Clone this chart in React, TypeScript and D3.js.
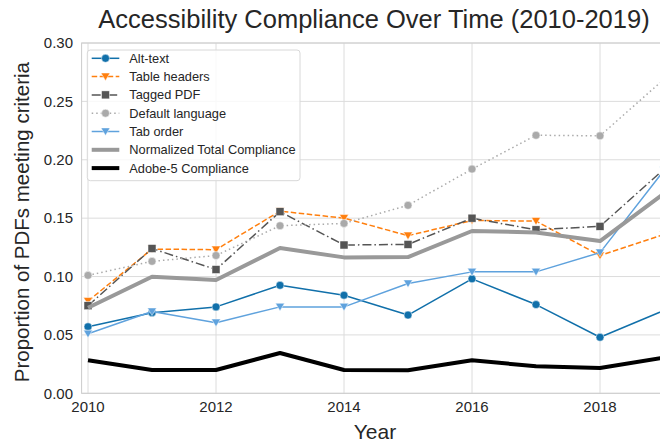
import React from "react";
import * as d3 from "d3";

const years = [2010, 2011, 2012, 2013, 2014, 2015, 2016, 2017, 2018, 2019];
const altText = [0.057, 0.069, 0.074, 0.0925, 0.084, 0.067, 0.098, 0.076, 0.048, 0.071];
const tableHeaders = [0.079, 0.1235, 0.123, 0.156, 0.150, 0.135, 0.148, 0.1475, 0.118, 0.136];
const taggedPdf = [0.075, 0.124, 0.106, 0.1555, 0.127, 0.1275, 0.150, 0.140, 0.143, 0.192];
const defaultLanguage = [0.101, 0.113, 0.118, 0.1435, 0.1455, 0.161, 0.192, 0.221, 0.2205, 0.269];
const tabOrder = [0.051, 0.070, 0.0605, 0.074, 0.074, 0.094, 0.104, 0.104, 0.1205, 0.191];
const normalizedTotal = [0.0733, 0.0998, 0.097, 0.1244, 0.1164, 0.1167, 0.139, 0.1378, 0.1304, 0.171];
const adobe5 = [0.0283, 0.020, 0.020, 0.0345, 0.020, 0.0197, 0.0283, 0.0231, 0.0217, 0.0305];
const yTicks = [0, 0.05, 0.1, 0.15, 0.2, 0.25, 0.3];
const xTicks = [2010, 2012, 2014, 2016, 2018];

type Series = {
  name: string;
  values: number[];
  color: string;
  width: number;
  dash?: string;
  marker?: "circle" | "square" | "tri";
};

const series: Series[] = [
  { name: "Alt-text", values: altText, color: "#1170aa", width: 1.5, marker: "circle" },
  { name: "Table headers", values: tableHeaders, color: "#ff7f0e", width: 1.5, dash: "5.5,2.5", marker: "tri" },
  { name: "Tagged PDF", values: taggedPdf, color: "#555555", width: 1.5, dash: "9,3,1.5,3", marker: "square" },
  { name: "Default language", values: defaultLanguage, color: "#aaaaaa", width: 1.5, dash: "1.5,3", marker: "circle" },
  { name: "Tab order", values: tabOrder, color: "#5fa2dd", width: 1.5, marker: "tri" },
  { name: "Normalized Total Compliance", values: normalizedTotal, color: "#999999", width: 4 },
  { name: "Adobe-5 Compliance", values: adobe5, color: "#000000", width: 4 },
];

const W = 660;
const H = 446;
const left = 81.6;
const right = 670.4;
const top = 43;
const bottom = 393.3;
const font = "'Liberation Sans', Arial, sans-serif";
const textColor = "#262626";

function Marker({ kind, x, y, color }: { kind?: string; x: number; y: number; color: string }) {
  if (!kind) return null;
  if (kind === "circle") return <circle cx={x} cy={y} r={4} fill={color} stroke="#fff" strokeWidth={0.5} />;
  if (kind === "square") return <rect x={x - 4} y={y - 4} width={8} height={8} fill={color} stroke="#fff" strokeWidth={0.5} />;
  const s = 4.5;
  return (
    <path
      d={`M${x - s},${y - s * 0.8}L${x + s},${y - s * 0.8}L${x},${y + s * 0.9}Z`}
      fill={color}
      stroke="#fff"
      strokeWidth={0.5}
    />
  );
}

export default function App() {
  const x = d3.scaleLinear().domain([2009.9, 2019.1]).range([left, right]);
  const y = d3.scaleLinear().domain([0, 0.3]).range([bottom, top]);
  const line = d3
    .line<number>()
    .x((_, i) => x(years[i]))
    .y((d) => y(d));

  const legX = 87.3;
  const legY = 50;
  const rowH = 18.3;

  return (
    <svg width={W} height={H} style={{ position: "absolute", left: 0, top: 0, background: "#fff" }} fontFamily={font}>
      <rect x={0} y={0} width={W} height={H} fill="#fff" />
      <defs>
        <clipPath id="plot">
          <rect x={left} y={top - 5} width={right - left} height={bottom - top + 10} />
        </clipPath>
      </defs>
      {/* grid */}
      {yTicks.map((t) => (
        <line key={"gy" + t} x1={left} x2={right} y1={y(t)} y2={y(t)} stroke="#dcdcdc" strokeWidth={1} />
      ))}
      {xTicks.map((t) => (
        <line key={"gx" + t} x1={x(t)} x2={x(t)} y1={top} y2={bottom} stroke="#dcdcdc" strokeWidth={1} />
      ))}
      {/* spines */}
      <rect x={left} y={top} width={right - left} height={bottom - top} fill="none" stroke="#cccccc" strokeWidth={1} />
      {/* series */}
      <g clipPath="url(#plot)">
        {series.map((s) => (
          <g key={s.name}>
            <path d={line(s.values) || ""} fill="none" stroke={s.color} strokeWidth={s.width} strokeDasharray={s.dash} strokeLinejoin="round" />
            {s.values.map((v, i) => (
              <Marker key={i} kind={s.marker} x={x(years[i])} y={y(v)} color={s.color} />
            ))}
          </g>
        ))}
      </g>
      {/* y ticks */}
      {yTicks.map((t) => (
        <text key={"ty" + t} x={73} y={y(t)} dy="0.35em" textAnchor="end" fontSize={15} fill={textColor}>
          {t.toFixed(2)}
        </text>
      ))}
      {xTicks.map((t) => (
        <text key={"tx" + t} x={x(t)} y={412} textAnchor="middle" fontSize={15} fill={textColor}>
          {t}
        </text>
      ))}
      {/* axis labels */}
      <text x={375} y={439} textAnchor="middle" fontSize={21} fill={textColor}>
        Year
      </text>
      <text transform={`translate(29,${(top + bottom) / 2 + 4}) rotate(-90)`} textAnchor="middle" fontSize={20.5} fill={textColor}>
        Proportion of PDFs meeting criteria
      </text>
      <text x={374} y={28} textAnchor="middle" fontSize={25.5} fill={textColor}>
        Accessibility Compliance Over Time (2010-2019)
      </text>
      {/* legend */}
      <rect x={legX} y={legY} width={212.7} height={130.7} rx={3} fill="#fff" fillOpacity={0.8} stroke="#d8d8d8" strokeWidth={1} />
      {series.map((s, i) => {
        const cy = 58.3 + i * rowH;
        return (
          <g key={"lg" + s.name}>
            <line x1={91.7} x2={119.3} y1={cy} y2={cy} stroke={s.color} strokeWidth={s.width} strokeDasharray={s.dash} />
            <Marker kind={s.marker} x={105.5} y={cy} color={s.color} />
            <text x={129.3} y={cy} dy="0.35em" fontSize={12.8} fill={textColor}>
              {s.name}
            </text>
          </g>
        );
      })}
    </svg>
  );
}
